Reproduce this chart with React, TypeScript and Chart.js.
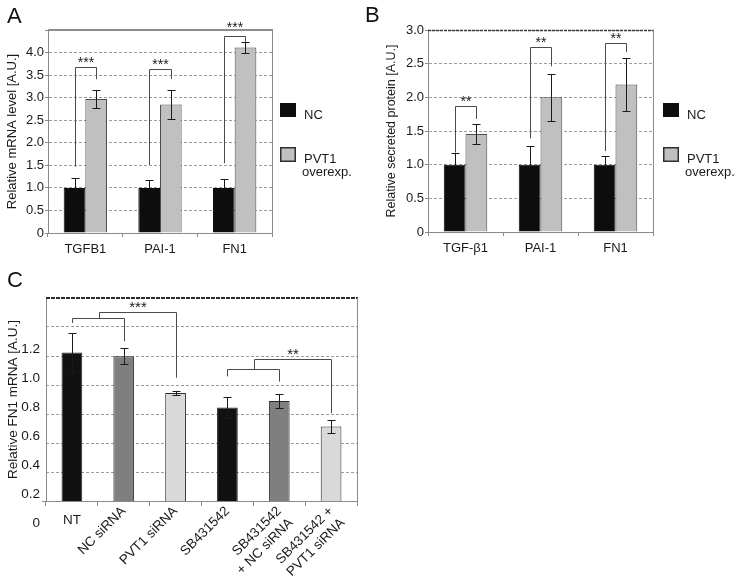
import React, { useEffect, useRef } from "react";
import { Chart, registerables } from "chart.js";

Chart.register(...registerables);

const FONT = "'Liberation Sans', Arial, Helvetica, sans-serif";

// ---------------- Panel A ----------------
const aCategories = ["TGFB1", "PAI-1", "FN1"];
const aLegend = [["NC"], ["PVT1", "overexp."]];
const aNC = [1.0, 1.0, 1.0];
const aNCErr = [0.23, 0.17, 0.2];
const aPVT1 = [2.97, 2.85, 4.11];
const aPVT1Err = [0.2, 0.33, 0.13];
const aBracketLeft = [1.47, 1.51, 1.55];
const aBracketTop = [3.68, 3.64, 4.36];
const aBracketRight = [3.41, 3.41, 4.24];
const aStars = ["***", "***", "***"];
const aYMax = 4.5;
const aYStep = 0.5;
const aYTitle = "Relative mRNA level [A.U.]";

// ---------------- Panel B ----------------
const bCategories = ["TGF-\u03b21", "PAI-1", "FN1"];
const bLegend = [["NC"], ["PVT1", "overexp."]];
const bNC = [1.0, 1.0, 1.0];
const bNCErr = [0.17, 0.28, 0.13];
const bPVT1 = [1.455, 2.0, 2.19];
const bPVT1Err = [0.145, 0.35, 0.4];
const bBracketLeft = [1.18, 1.39, 1.2];
const bBracketTop = [1.87, 2.75, 2.8];
const bBracketRight = [1.68, 2.46, 2.67];
const bStars = ["**", "**", "**"];
const bYMax = 3.0;
const bYStep = 0.5;
const bYTitle = "Relative secreted protein [A.U.]";

// ---------------- Panel C ----------------
const cCategories: (string | string[])[] = [
  "NT",
  "NC siRNA",
  "PVT1 siRNA",
  "SB431542",
  ["SB431542", "+ NC siRNA"],
  ["SB431542 +", "PVT1 siRNA"],
];
const cValues = [1.18, 1.155, 0.9, 0.8, 0.845, 0.668];
const cErrors = [0.135, 0.055, 0.013, 0.07, 0.05, 0.042];
const cColors = ["#111111", "#7f7f7f", "#d9d9d9", "#111111", "#7f7f7f", "#d9d9d9"];
const cTickLabels = [0, 0.2, 0.4, 0.6, 0.8, 1.0, 1.2];
const cYMin = 0.152;
const cYMax = 1.558;
const cGridMax = 1.4;
const cGridStep = 0.2;
const cPairBars = [[0, 1], [3, 4]];
const cPairLegs = [[1.385, 1.258], [1.015, 0.979]];
const cPairTops = [1.42, 1.066];
const cTargetBars = [2, 5];
const cOuterTops = [1.463, 1.136];
const cTargetLegs = [1.006, 0.762];
const cStars = ["***", "**"];
const cYTitle = "Relative FN1 mRNA [A.U.]";

const AXIS = "#8a8a8a";
const GRID = "#9c9c9c";
const TEXT = "#1a1a1a";
const BRK = "#4a4a4a";

const px = (v: number) => Math.round(v) + 0.5;

function drawErr(ctx: CanvasRenderingContext2D, x: number, yStart: number, yTop: number, yBot: number | null, cap: number) {
  const xx = px(x);
  ctx.beginPath();
  ctx.moveTo(xx, px(yTop));
  ctx.lineTo(xx, px(yBot == null ? yStart : yBot));
  ctx.moveTo(xx - cap, px(yTop));
  ctx.lineTo(xx + cap, px(yTop));
  if (yBot != null) {
    ctx.moveTo(xx - cap, px(yBot));
    ctx.lineTo(xx + cap, px(yBot));
  }
  ctx.stroke();
}

type ABParams = {
  letter: string;
  letterX: number;
  letterY: number;
  categories: string[];
  legend: string[][];
  nc: number[];
  ncErr: number[];
  pvt: number[];
  pvtErr: number[];
  brL: number[];
  brT: number[];
  brR: number[];
  stars: string[];
  yMax: number;
  step: number;
  hideTop: boolean;
  yTitle: string;
  titleSize: number;
  titlePad: number;
  padding: { top: number; right: number; left: number; bottom: number };
  yWidth: number;
  xHeight: number;
  legendDX: number;
  topStyle: { color: string; width: number; dash: number[] };
};

function abPlugin(p: ABParams) {
  return {
    id: "abAnnot",
    afterDatasetsDraw(chart: any) {
      const ctx: CanvasRenderingContext2D = chart.ctx;
      const ys = chart.scales.y;
      const a = chart.chartArea;
      const m0 = chart.getDatasetMeta(0);
      const m1 = chart.getDatasetMeta(1);
      ctx.save();
      // frame
      ctx.strokeStyle = p.topStyle.color;
      ctx.lineWidth = p.topStyle.width;
      ctx.setLineDash(p.topStyle.dash);
      ctx.beginPath();
      ctx.moveTo(a.left, Math.round(a.top) + (p.topStyle.width % 2 ? 0.5 : 0));
      ctx.lineTo(a.right + 1, Math.round(a.top) + (p.topStyle.width % 2 ? 0.5 : 0));
      ctx.stroke();
      ctx.setLineDash([]);
      ctx.strokeStyle = AXIS;
      ctx.lineWidth = 1;
      ctx.beginPath();
      ctx.moveTo(px(a.right), a.top);
      ctx.lineTo(px(a.right), a.bottom);
      ctx.stroke();

      // error bars
      ctx.strokeStyle = "#1a1a1a";
      ctx.lineWidth = 1;
      p.nc.forEach((v, i) => {
        const el = m0.data[i];
        drawErr(ctx, el.x, ys.getPixelForValue(v), ys.getPixelForValue(v + p.ncErr[i]), null, 4);
      });
      p.pvt.forEach((v, i) => {
        const el = m1.data[i];
        drawErr(ctx, el.x, ys.getPixelForValue(v), ys.getPixelForValue(v + p.pvtErr[i]), ys.getPixelForValue(v - p.pvtErr[i]), 4);
      });

      // brackets
      ctx.strokeStyle = BRK;
      p.brT.forEach((t, i) => {
        const xl = px(m0.data[i].x);
        const xr = px(m1.data[i].x);
        const yt = px(ys.getPixelForValue(t));
        ctx.beginPath();
        ctx.moveTo(xl, ys.getPixelForValue(p.brL[i]));
        ctx.lineTo(xl, yt);
        ctx.lineTo(xr, yt);
        ctx.lineTo(xr, ys.getPixelForValue(p.brR[i]));
        ctx.stroke();
        ctx.fillStyle = TEXT;
        ctx.font = `14px ${FONT}`;
        ctx.textAlign = "center";
        ctx.textBaseline = "alphabetic";
        // keep the stars clear of the top frame line
        let base = yt - 0.5;
        const center = base - 8;
        if (Math.abs(center - a.top) < 4) base = a.top - 6 + 8;
        ctx.fillText(p.stars[i], (xl + xr) / 2, base);
      });

      // legend
      const lx = Math.round(a.right) + p.legendDX;
      const colors = [
        { fill: "#0d0d0d", stroke: "#0d0d0d", top: a.top + 73, h: 14 },
        { fill: "#c0c0c0", stroke: "#2e2e2e", top: a.top + 117, h: 15 },
      ];
      p.legend.forEach((lines, k) => {
        const c = colors[k];
        ctx.fillStyle = c.fill;
        ctx.fillRect(lx, c.top, 16, c.h);
        ctx.strokeStyle = c.stroke;
        ctx.lineWidth = 1.5;
        ctx.strokeRect(lx + 0.75, c.top + 0.75, 14.5, c.h - 1.5);
        ctx.fillStyle = TEXT;
        ctx.font = `13px ${FONT}`;
        ctx.textAlign = "left";
        ctx.textBaseline = "alphabetic";
        lines.forEach((ln, j) => {
          const x = j === 0 ? lx + 24 : lx + 22;
          ctx.fillText(ln, x, c.top + 15.5 + j * 13);
        });
      });

      // panel letter
      ctx.fillStyle = "#111";
      ctx.font = `22px ${FONT}`;
      ctx.textAlign = "left";
      ctx.fillText(p.letter, p.letterX, p.letterY);
      ctx.restore();
    },
  };
}

function abConfig(p: ABParams): any {
  return {
    type: "bar",
    data: {
      labels: p.categories,
      datasets: [
        { label: p.legend[0].join(" "), data: p.nc, backgroundColor: "#0d0d0d", borderColor: "#0d0d0d", borderWidth: 1 },
        { label: p.legend[1].join(" "), data: p.pvt, backgroundColor: "#c0c0c0", borderColor: "#4d4d4d", borderWidth: 1 },
      ],
    },
    options: {
      responsive: false,
      maintainAspectRatio: false,
      animation: false,
      events: [],
      layout: { padding: p.padding },
      datasets: { bar: { categoryPercentage: 0.58, barPercentage: 1 } },
      plugins: { legend: { display: false }, tooltip: { enabled: false } },
      scales: {
        x: {
          afterFit: (s: any) => {
            s.height = p.xHeight;
          },
          grid: { display: true, drawOnChartArea: false, tickLength: 4, color: AXIS, offset: true },
          border: { display: true, color: AXIS },
          ticks: { color: TEXT, font: { family: FONT, size: 13 }, padding: 5, maxRotation: 0, autoSkip: false },
        },
        y: {
          min: 0,
          max: p.yMax,
          afterFit: (s: any) => {
            s.width = p.yWidth;
          },
          ticks: {
            stepSize: p.step,
            color: TEXT,
            font: { family: FONT, size: 13 },
            padding: 1,
            callback: (v: any) => {
              const n = Number(v);
              if (n === 0) return "0";
              if (p.hideTop && Math.abs(n - p.yMax) < 1e-9) return "";
              return n.toFixed(1);
            },
          },
          grid: {
            color: (c: any) => (c.tick && c.tick.value === 0 ? "rgba(0,0,0,0)" : GRID),
            tickColor: AXIS,
            tickLength: 3,
            lineWidth: 1,
          },
          border: { display: true, color: AXIS, dash: [3, 2] },
          title: {
            display: true,
            text: p.yTitle,
            color: TEXT,
            font: { family: FONT, size: p.titleSize },
            padding: { top: p.titlePad, bottom: 0 },
          },
        },
      },
    },
    plugins: [abPlugin(p)],
  };
}

const cPlugin = {
  id: "cAnnot",
  afterDatasetsDraw(chart: any) {
    const ctx: CanvasRenderingContext2D = chart.ctx;
    const ys = chart.scales.y;
    const xs = chart.scales.x;
    const a = chart.chartArea;
    const meta = chart.getDatasetMeta(0);
    ctx.save();
    // frame
    ctx.strokeStyle = "#2a2a2a";
    ctx.lineWidth = 2;
    ctx.setLineDash([4, 1]);
    ctx.beginPath();
    ctx.moveTo(a.left, Math.round(a.top));
    ctx.lineTo(a.right + 1, Math.round(a.top));
    ctx.stroke();
    ctx.setLineDash([]);
    ctx.strokeStyle = AXIS;
    ctx.lineWidth = 1;
    ctx.beginPath();
    ctx.moveTo(px(a.right), a.top);
    ctx.lineTo(px(a.right), a.bottom);
    ctx.stroke();
    // small tick at the foot of the value axis
    ctx.beginPath();
    ctx.moveTo(a.left - 4, px(a.bottom));
    ctx.lineTo(a.left, px(a.bottom));
    ctx.stroke();

    // error bars
    ctx.strokeStyle = "#1a1a1a";
    cValues.forEach((v, i) => {
      const el = meta.data[i];
      drawErr(ctx, el.x, ys.getPixelForValue(v), ys.getPixelForValue(v + cErrors[i]), ys.getPixelForValue(v - cErrors[i]), 4);
    });

    // brackets
    ctx.strokeStyle = BRK;
    cPairBars.forEach((pair, k) => {
      const xa = px(meta.data[pair[0]].x);
      const xb = px(meta.data[pair[1]].x);
      const yt = px(ys.getPixelForValue(cPairTops[k]));
      ctx.beginPath();
      ctx.moveTo(xa, ys.getPixelForValue(cPairLegs[k][0]));
      ctx.lineTo(xa, yt);
      ctx.lineTo(xb, yt);
      ctx.lineTo(xb, ys.getPixelForValue(cPairLegs[k][1]));
      ctx.stroke();
      const mid = px((xa + xb) / 2);
      const xt = px(meta.data[cTargetBars[k]].x);
      const yo = px(ys.getPixelForValue(cOuterTops[k]));
      ctx.beginPath();
      ctx.moveTo(mid, yt);
      ctx.lineTo(mid, yo);
      ctx.lineTo(xt, yo);
      ctx.lineTo(xt, ys.getPixelForValue(cTargetLegs[k]));
      ctx.stroke();
      ctx.fillStyle = TEXT;
      ctx.font = `15px ${FONT}`;
      ctx.textAlign = "center";
      ctx.textBaseline = "alphabetic";
      ctx.fillText(cStars[k], (mid + xt) / 2, yo - 0.5);
    });

    // category labels: first one horizontal, the rest rotated by 45 degrees
    ctx.fillStyle = TEXT;
    ctx.font = `13.5px ${FONT}`;
    cCategories.forEach((lab, i) => {
      const x = xs.getPixelForValue(i);
      if (i === 0) {
        ctx.textAlign = "center";
        ctx.textBaseline = "middle";
        ctx.fillText(String(lab), x, a.bottom + 19);
        return;
      }
      const lines = Array.isArray(lab) ? lab : [lab];
      ctx.save();
      ctx.translate(x, a.bottom + 8);
      ctx.rotate(-Math.PI / 4);
      ctx.textAlign = "right";
      ctx.textBaseline = "middle";
      lines.forEach((ln, j) => ctx.fillText(ln, 0, j * 16.5));
      ctx.restore();
    });

    // letter
    ctx.fillStyle = "#111";
    ctx.font = `22px ${FONT}`;
    ctx.textAlign = "left";
    ctx.textBaseline = "alphabetic";
    ctx.fillText("C", 7, 17);
    ctx.restore();
  },
};

function cConfig(): any {
  return {
    type: "bar",
    data: {
      labels: cCategories,
      datasets: [
        {
          label: "Relative FN1 mRNA",
          data: cValues,
          backgroundColor: cColors,
          borderColor: "#2a2a2a",
          borderWidth: 1,
          base: cYMin,
          yAxisID: "y",
        },
      ],
    },
    options: {
      responsive: false,
      maintainAspectRatio: false,
      animation: false,
      events: [],
      layout: { padding: { top: 28, right: 13, left: 0, bottom: 0 } },
      datasets: { bar: { categoryPercentage: 1, barPercentage: 0.4 } },
      plugins: { legend: { display: false }, tooltip: { enabled: false } },
      scales: {
        x: {
          afterFit: (s: any) => {
            s.height = 78;
          },
          grid: { display: true, drawOnChartArea: false, tickLength: 5, color: AXIS, offset: true },
          border: { display: true, color: AXIS },
          ticks: {
            color: TEXT,
            font: { family: FONT, size: 13 },
            padding: 2,
            maxRotation: 0,
            autoSkip: false,
            callback: () => "",
          },
        },
        y: {
          position: "left",
          min: cYMin,
          max: cYMax,
          afterBuildTicks: (s: any) => {
            s.ticks = cTickLabels.map((value) => ({ value }));
          },
          afterFit: (s: any) => {
            s.width = 46;
          },
          grid: { display: false, tickLength: 3 },
          border: { display: true, color: AXIS },
          ticks: {
            color: TEXT,
            font: { family: FONT, size: 13.5 },
            padding: 3,
            callback: (v: any) => (Number(v) === 0 ? "0" : Number(v).toFixed(1)),
          },
          title: {
            display: true,
            text: cYTitle,
            color: TEXT,
            font: { family: FONT, size: 13.5 },
            padding: { top: 5, bottom: 0 },
          },
        },
        yg: {
          position: "right",
          min: 0,
          max: cGridMax,
          afterFit: (s: any) => {
            s.width = 0;
          },
          ticks: { display: false, stepSize: cGridStep },
          grid: {
            color: (c: any) => (c.tick && c.tick.value === 0 ? "rgba(0,0,0,0)" : GRID),
            drawTicks: false,
            lineWidth: 1,
          },
          border: { display: false, dash: [3, 2] },
        },
      },
    },
    plugins: [cPlugin],
  };
}

function ChartBox(props: { make: () => any; left: number; top: number; width: number; height: number }) {
  const ref = useRef<HTMLCanvasElement | null>(null);
  useEffect(() => {
    if (!ref.current) return;
    const chart = new Chart(ref.current, props.make());
    return () => chart.destroy();
  }, []);
  return (
    <canvas
      ref={ref}
      width={props.width}
      height={props.height}
      style={{ position: "absolute", left: props.left, top: props.top, width: props.width, height: props.height }}
    />
  );
}

const paramsA: ABParams = {
  letter: "A",
  letterX: 7,
  letterY: 23,
  categories: aCategories,
  legend: aLegend,
  nc: aNC,
  ncErr: aNCErr,
  pvt: aPVT1,
  pvtErr: aPVT1Err,
  brL: aBracketLeft,
  brT: aBracketTop,
  brR: aBracketRight,
  stars: aStars,
  yMax: aYMax,
  step: aYStep,
  hideTop: true,
  yTitle: aYTitle,
  titleSize: 13,
  titlePad: 5,
  padding: { top: 30, right: 93, left: 0, bottom: 0 },
  yWidth: 48,
  xHeight: 25,
  legendDX: 8,
  topStyle: { color: "#8c8c8c", width: 2, dash: [] },
};

const paramsB: ABParams = {
  letter: "B",
  letterX: 0,
  letterY: 22,
  categories: bCategories,
  legend: bLegend,
  nc: bNC,
  ncErr: bNCErr,
  pvt: bPVT1,
  pvtErr: bPVT1Err,
  brL: bBracketLeft,
  brT: bBracketTop,
  brR: bBracketRight,
  stars: bStars,
  yMax: bYMax,
  step: bYStep,
  hideTop: false,
  yTitle: bYTitle,
  titleSize: 12.5,
  titlePad: 19,
  padding: { top: 30, right: 82, left: 0, bottom: 0 },
  yWidth: 63,
  xHeight: 26,
  legendDX: 10,
  topStyle: { color: "#3a3a3a", width: 1.5, dash: [3, 1] },
};

export default function App() {
  return (
    <div style={{ position: "absolute", left: 0, top: 0, width: 735, height: 579, background: "#fff", overflow: "hidden" }}>
      <ChartBox make={() => abConfig(paramsA)} left={0} top={0} width={365} height={258} />
      <ChartBox make={() => abConfig(paramsB)} left={365} top={0} width={370} height={258} />
      <ChartBox make={cConfig} left={0} top={270} width={370} height={309} />
    </div>
  );
}
